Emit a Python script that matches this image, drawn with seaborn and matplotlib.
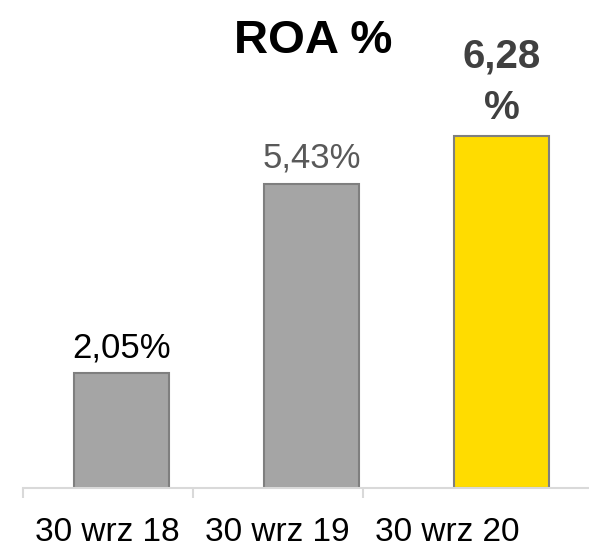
import matplotlib
matplotlib.use("Agg")
import matplotlib.pyplot as plt
import seaborn as sns
import pandas as pd

categories = ["30 wrz 18", "30 wrz 19", "30 wrz 20"]
roa = [2.05, 5.43, 6.28]
labels = ["2,05%", "5,43%", "6,28\n%"]
bar_colors = ["#A5A5A5", "#A5A5A5", "#FFDC00"]
label_colors = ["#000000", "#595959", "#404040"]
label_weights = ["normal", "normal", "bold"]

df = pd.DataFrame({"Data": categories, "ROA": roa})

sns.set_style("white")
plt.rcParams["font.family"] = ["Liberation Sans", "DejaVu Sans"]

fig = plt.figure(figsize=(5.89, 5.5), dpi=100)
ax = fig.add_axes([23 / 589, 62 / 550, 566 / 589, 488 / 550])

sns.barplot(data=df, x="Data", y="ROA", hue="Data", palette=bar_colors,
            saturation=1, width=0.5, edgecolor="#7F7F7F", linewidth=1.5,
            legend=False, ax=ax)

ax.set_xlim(-0.52, 2.46)
ax.set_ylim(0, 8.71)

for i, (v, t) in enumerate(zip(roa, labels)):
    if label_weights[i] == "bold":
        ax.text(i, v + 0.16, t, ha="center", va="bottom", fontsize=29,
                fontweight="bold", color=label_colors[i], linespacing=1.45)
    else:
        ax.text(i, v + 0.16, t, ha="center", va="bottom", fontsize=25,
                color=label_colors[i])

fig.text(313 / 589, 1 - 41 / 550, "ROA %", ha="center", va="center",
         fontsize=34, fontweight="bold", color="#000000")

for s in ["top", "right", "left"]:
    ax.spines[s].set_visible(False)
ax.spines["bottom"].set_color("#D9D9D9")
ax.spines["bottom"].set_linewidth(1.5)

ax.set_yticks([])
ax.set_xlabel("")
ax.set_ylabel("")
# category labels sit between the boundary ticks, not under the bars
ax.set_xticks([-0.074, 0.821, 1.716])
ax.set_xticklabels(categories)
ax.set_xticks([-0.52, 0.374, 1.268], minor=True)
ax.tick_params(axis="x", which="both", bottom=True)
ax.tick_params(axis="x", which="major", length=0, pad=21, labelsize=24,
               labelcolor="#000000")
ax.tick_params(axis="x", which="minor", length=7, width=1.5, color="#D9D9D9")

fig.savefig("out.png", dpi=100)
